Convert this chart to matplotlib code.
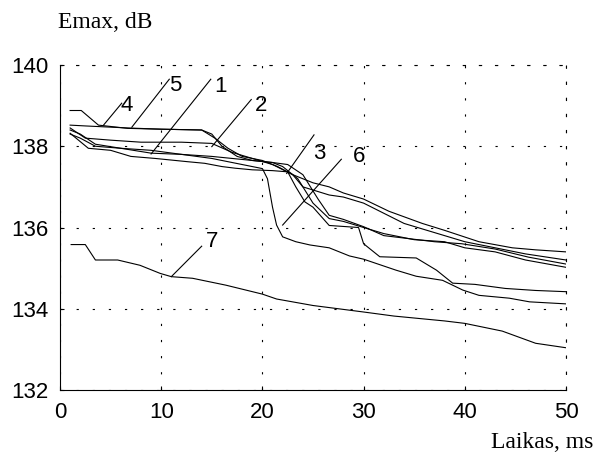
import matplotlib
matplotlib.use('Agg')

import matplotlib.pyplot as plt

# curve data: time (ms) and Emax (dB)
t1 = [1, 2, 3.5, 6, 9, 12, 15, 17, 19, 21, 22, 23.5, 25, 26.6, 28, 30, 32, 35, 38, 40, 43, 46, 50]
e1 = [138.4, 138.3, 138.05, 137.95, 137.83, 137.8, 137.75, 137.7, 137.65, 137.6, 137.5, 137.2, 136.6,
      136.22, 136.15, 136.0, 135.85, 135.7, 135.65, 135.5, 135.4, 135.2, 135.02]

t2 = [1, 2.5, 5, 8, 12, 15, 17, 19, 21, 23, 25, 26.6, 28, 30, 32.5, 35.8, 38, 41.4, 44.7, 47, 50]
e2 = [138.45, 138.2, 138.15, 138.1, 138.1, 138.07, 137.85, 137.7, 137.55, 137.3, 137.1, 137.0, 136.85,
      136.7, 136.4, 136.1, 135.93, 135.65, 135.5, 135.45, 135.4]

t3 = [1, 2.8, 5, 7, 9.4, 12.6, 14.3, 16, 17.3, 19, 21, 22.5, 23.3, 24.2, 25, 26.6, 29.5, 30, 31.6,
      35.2, 37.2, 38.8, 41, 44, 47, 50]
e3 = [138.32, 137.95, 137.9, 137.75, 137.7, 137.62, 137.58, 137.5, 137.46, 137.42, 137.4, 137.37, 137.0,
      136.63, 136.5, 136.05, 136.0, 135.6, 135.28, 135.25, 134.95, 134.63, 134.6, 134.5, 134.45, 134.42]

t4 = [1, 2.1, 3.8, 6.7, 10, 14, 15.3, 16.6, 18, 20, 21.5, 23, 24, 26.6, 28, 30, 32, 34, 36, 38, 40,
      43, 46, 50]
e4 = [138.88, 138.88, 138.52, 138.44, 138.42, 138.4, 138.2, 137.95, 137.75, 137.65, 137.5, 137.3, 137.0,
      136.8, 136.75, 136.6, 136.35, 136.1, 135.95, 135.8, 135.65, 135.5, 135.35, 135.2]

t5 = [1, 2.5, 6.7, 10, 14, 15, 16, 17.5, 19, 21, 22.5, 24, 25.5, 26.6, 28, 30, 32, 34, 37, 39.7,
      43, 46.3, 50]
e5 = [138.52, 138.5, 138.45, 138.42, 138.4, 138.3, 138.0, 137.75, 137.65, 137.6, 137.55, 137.3, 136.7,
      136.3, 136.2, 136.02, 135.8, 135.74, 135.65, 135.6, 135.47, 135.27, 135.1]

t6 = [1, 2, 3.5, 6, 9, 12, 15, 18, 20, 20.5, 21, 21.4, 22, 23.3, 24.7, 26.6, 28.6, 30, 33.2, 35.2,
      37.8, 38.8, 39.8, 41.4, 44.4, 46.4, 50]
e6 = [138.3, 138.2, 138.0, 137.95, 137.9, 137.8, 137.7, 137.55, 137.45, 137.2, 136.5, 136.06, 135.77,
      135.65, 135.57, 135.5, 135.3, 135.22, 134.95, 134.8, 134.7, 134.58, 134.46, 134.33, 134.26,
      134.17, 134.12]

t7 = [1.1, 2.5, 3.5, 5.7, 7.9, 9.9, 11, 13.1, 16.4, 20, 21.4, 25, 30, 33, 38, 40, 43.7, 47, 50]
e7 = [135.58, 135.58, 135.2, 135.2, 135.07, 134.87, 134.79, 134.75, 134.58, 134.36, 134.24, 134.08,
      133.92, 133.82, 133.7, 133.64, 133.45, 133.15, 133.04]

# curve labels: name, text position, leader start, leader end
labels = ['4', '5', '1', '2', '3', '6', '7']
label_xy = [(6.6, 139.0), (11.4, 139.5), (15.9, 139.47), (19.9, 139.0), (25.6, 137.83), (29.6, 137.74), (15.0, 135.65)]
lead_from = [(6.1, 139.06), (10.8, 139.65), (14.9, 139.65), (18.9, 139.15), (25.1, 138.28), (27.8, 137.68), (14.0, 135.54)]
lead_to = [(4.3, 138.52), (7.1, 138.47), (9.0, 137.81), (15.0, 137.99), (22.4, 137.33), (22.0, 136.06), (11.0, 134.79)]

fig = plt.figure(figsize=(5.98, 4.59), dpi=100)
ax = fig.add_axes([60 / 598, 1 - 390 / 459, 506 / 598, 325 / 459])

for t, e in [(t1, e1), (t2, e2), (t3, e3), (t4, e4), (t5, e5), (t6, e6), (t7, e7)]:
    ax.plot(t, e, color='black', linewidth=0.8)

for name, xy, a, b in zip(labels, label_xy, lead_from, lead_to):
    ax.plot([a[0], b[0]], [a[1], b[1]], color='black', linewidth=0.8)
    ax.text(xy[0], xy[1], name, fontsize=16, family='Liberation Sans', ha='center', va='center')

ax.set_xlim(0, 50)
ax.set_ylim(132, 140)
ax.set_xticks(range(0, 51, 10))
ax.set_yticks(range(132, 141, 2))
ax.tick_params(direction='in', length=3, width=0.8, labelsize=16)
ax.tick_params(axis='x', pad=9)
ax.tick_params(axis='y', pad=8)
for lab in ax.get_xticklabels() + ax.get_yticklabels():
    lab.set_family('Liberation Sans')

# dotted grid, top and right frame dotted too
ax.grid(True, color='black', linewidth=0.8, linestyle=(0, (2, 12.5)))
ax.spines['top'].set_linestyle((0, (2, 12.5)))
ax.spines['right'].set_linestyle((0, (2, 12.5)))
for s in ax.spines.values():
    s.set_linewidth(0.8)

fig.text(105 / 598, 1 - 23 / 459, 'Emax, dB', fontsize=17, family='Liberation Serif', ha='center', va='center')
fig.text(593 / 598, 1 - 443 / 459, 'Laikas, ms', fontsize=17, family='Liberation Serif', ha='right', va='center')

plt.savefig('out.png', dpi=100)
plt.close()
